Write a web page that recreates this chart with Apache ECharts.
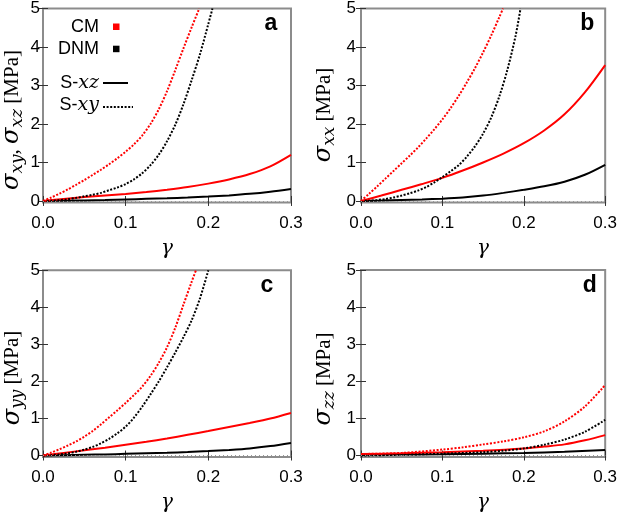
<!DOCTYPE html>
<html><head><meta charset="utf-8">
<script src="https://cdn.jsdelivr.net/npm/echarts@6/dist/echarts.min.js"></script>
<style>html,body{margin:0;padding:0;background:#fff}#c{width:620px;height:514px}</style>
</head><body><div id="c"></div>
<script>
// ---- data: [gamma, stress MPa] ----
const xTickValues = [0, 0.1, 0.2, 0.3];
const yTickValues = [0, 1, 2, 3, 4, 5];
const panelLetters = ['a', 'b', 'c', 'd'];

// panel a : sigma_xy / sigma_xz
const aCM_xz  = [[0,0],[0.025,0.05],[0.05,0.1],[0.075,0.14],[0.1,0.18],[0.125,0.23],[0.15,0.29],[0.175,0.36],[0.2,0.45],[0.225,0.56],[0.25,0.7],[0.275,0.9],[0.3,1.2]];
const aDNM_xz = [[0,0],[0.025,0.005],[0.05,0.015],[0.075,0.025],[0.1,0.04],[0.125,0.055],[0.15,0.07],[0.175,0.09],[0.2,0.115],[0.225,0.145],[0.25,0.185],[0.275,0.24],[0.3,0.31]];
const aCM_xy  = [[0,0],[0.01,0.09],[0.02,0.19],[0.03,0.3],[0.04,0.42],[0.05,0.545],[0.06,0.675],[0.07,0.81],[0.08,0.955],[0.09,1.11],[0.1,1.28],[0.11,1.47],[0.12,1.7],[0.13,2.0],[0.14,2.38],[0.15,2.85],[0.16,3.4],[0.17,3.97],[0.18,4.52],[0.189,5]];
const aDNM_xy = [[0,0],[0.01,0.005],[0.02,0.02],[0.03,0.045],[0.04,0.08],[0.05,0.12],[0.06,0.16],[0.07,0.21],[0.08,0.28],[0.09,0.35],[0.1,0.44],[0.11,0.56],[0.12,0.72],[0.13,0.93],[0.14,1.2],[0.15,1.55],[0.16,1.98],[0.17,2.52],[0.18,3.15],[0.19,3.82],[0.2,4.6],[0.205,5]];

// panel b : sigma_xx
const bCM_xz  = [[0,0],[0.025,0.14],[0.05,0.29],[0.075,0.44],[0.1,0.6],[0.125,0.79],[0.15,1.0],[0.175,1.23],[0.2,1.5],[0.225,1.83],[0.25,2.25],[0.275,2.82],[0.3,3.53]];
const bDNM_xz = [[0,0],[0.025,0.01],[0.05,0.025],[0.075,0.04],[0.1,0.06],[0.125,0.09],[0.15,0.14],[0.175,0.21],[0.2,0.29],[0.225,0.38],[0.25,0.5],[0.275,0.68],[0.3,0.94]];
const bCM_xy  = [[0,0],[0.01,0.19],[0.02,0.38],[0.03,0.58],[0.04,0.78],[0.05,0.98],[0.06,1.18],[0.07,1.39],[0.08,1.62],[0.09,1.86],[0.1,2.12],[0.11,2.41],[0.12,2.73],[0.13,3.08],[0.14,3.45],[0.15,3.86],[0.16,4.3],[0.17,4.78],[0.1745,5]];
const bDNM_xy = [[0,0],[0.01,0.006],[0.02,0.025],[0.03,0.05],[0.04,0.09],[0.05,0.14],[0.06,0.2],[0.07,0.27],[0.08,0.36],[0.09,0.48],[0.1,0.62],[0.11,0.77],[0.12,0.93],[0.13,1.15],[0.14,1.42],[0.15,1.75],[0.16,2.17],[0.17,2.72],[0.18,3.42],[0.19,4.3],[0.196,5]];

// panel c : sigma_yy
const cCM_xz  = [[0,0],[0.025,0.07],[0.05,0.14],[0.075,0.21],[0.1,0.29],[0.125,0.37],[0.15,0.46],[0.175,0.56],[0.2,0.66],[0.225,0.77],[0.25,0.88],[0.275,1.0],[0.3,1.15]];
const cDNM_xz = [[0,0],[0.025,0.01],[0.05,0.02],[0.075,0.03],[0.1,0.045],[0.125,0.06],[0.15,0.075],[0.175,0.095],[0.2,0.12],[0.225,0.15],[0.25,0.19],[0.275,0.255],[0.3,0.34]];
const cCM_xy  = [[0,0],[0.01,0.08],[0.02,0.17],[0.03,0.27],[0.04,0.38],[0.05,0.51],[0.06,0.66],[0.07,0.84],[0.08,1.03],[0.09,1.22],[0.1,1.42],[0.11,1.63],[0.12,1.86],[0.13,2.15],[0.14,2.5],[0.15,2.92],[0.16,3.45],[0.17,4.08],[0.18,4.7],[0.185,5]];
const cDNM_xy = [[0,0],[0.01,0.01],[0.02,0.03],[0.03,0.06],[0.04,0.1],[0.05,0.16],[0.06,0.23],[0.07,0.33],[0.08,0.45],[0.09,0.6],[0.1,0.78],[0.11,1.02],[0.12,1.32],[0.13,1.65],[0.14,2.0],[0.15,2.38],[0.16,2.78],[0.17,3.2],[0.18,3.66],[0.19,4.25],[0.2,5]];

// panel d : sigma_zz
const dCM_xz  = [[0,0.04],[0.05,0.06],[0.1,0.09],[0.15,0.13],[0.2,0.19],[0.225,0.24],[0.25,0.3],[0.275,0.41],[0.3,0.55]];
const dDNM_xz = [[0,0.02],[0.05,0.025],[0.1,0.035],[0.15,0.05],[0.2,0.07],[0.25,0.1],[0.3,0.15]];
const dCM_xy  = [[0,0.04],[0.05,0.07],[0.1,0.16],[0.125,0.22],[0.15,0.3],[0.175,0.38],[0.2,0.49],[0.225,0.65],[0.25,0.92],[0.275,1.32],[0.3,1.9]];
const dDNM_xy = [[0,0],[0.05,0.02],[0.1,0.05],[0.15,0.09],[0.175,0.13],[0.2,0.19],[0.225,0.29],[0.25,0.43],[0.275,0.64],[0.3,0.96]];

const panelData = [
  [aCM_xz, aDNM_xz, aCM_xy, aDNM_xy],
  [bCM_xz, bDNM_xz, bCM_xy, bDNM_xy],
  [cCM_xz, cDNM_xz, cCM_xy, cDNM_xy],
  [dCM_xz, dDNM_xz, dCM_xy, dDNM_xy]
];

// ---- layout ----
const grids = [
  {left: 43,  top: 8.5,   width: 248,   height: 194},
  {left: 361, top: 8.5,   width: 246.7, height: 194},
  {left: 43,  top: 270.3, width: 248,   height: 194.3},
  {left: 361, top: 270,   width: 246.7, height: 194.5}
];
const yLabelMargin = [3, 5, 3, 5];
const RED = '#ff0000', BLACK = '#000000';
const SANS = '"Liberation Sans", Arial, sans-serif';
const SERIF = '"Liberation Serif", serif';
const MATH = '"DejaVu Serif", "Liberation Serif", serif';

const option = {
  animation: false,
  backgroundColor: '#fff',
  grid: grids.map(g => Object.assign({show: true, borderColor: '#8c8c8c', borderWidth: 2, backgroundColor: 'transparent'}, g)),
  xAxis: [], yAxis: [], series: [], graphic: []
};

grids.forEach((g, i) => {
  option.xAxis.push({
    type: 'value', gridIndex: i, min: 0, max: 0.3, position: 'bottom',
    axisLine: {show: false},
    axisTick: {show: true, inside: true, length: 5, customValues: xTickValues, lineStyle: {color: '#333', width: 1}},
    axisLabel: {show: true, customValues: xTickValues, formatter: v => v.toFixed(1), fontFamily: SANS, fontSize: 17, color: '#000', margin: 12},
    splitLine: {show: false},
    name: 'γ', nameLocation: 'middle', nameGap: 36,
    nameTextStyle: {fontFamily: MATH, fontStyle: 'italic', fontSize: 20, color: '#000'}
  });
  option.xAxis.push({
    type: 'value', gridIndex: i, min: 0, max: 0.3, position: 'top',
    axisLine: {show: false},
    axisTick: {show: true, inside: true, length: 5, customValues: xTickValues, lineStyle: {color: '#333', width: 1}},
    axisLabel: {show: false}, splitLine: {show: false}
  });
  option.yAxis.push({
    type: 'value', gridIndex: i, min: -0.04, max: 5, position: 'left',
    axisLine: {show: false},
    axisTick: {show: true, inside: true, length: 5, customValues: yTickValues, lineStyle: {color: '#333', width: 1}},
    axisLabel: {show: true, customValues: yTickValues, fontFamily: SANS, fontSize: 17, color: '#000', margin: yLabelMargin[i]},
    splitLine: {show: false}
  });
  option.yAxis.push({
    type: 'value', gridIndex: i, min: -0.04, max: 5, position: 'right',
    axisLine: {show: false},
    axisTick: {show: true, inside: true, length: 5, customValues: yTickValues, lineStyle: {color: '#333', width: 1}},
    axisLabel: {show: false}, splitLine: {show: false}
  });

  const [cmXZ, dnmXZ, cmXY, dnmXY] = panelData[i];
  const mk = (data, color, dotted, withZero) => {
    const s = {
      type: 'line', xAxisIndex: 2 * i, yAxisIndex: 2 * i, data: data,
      symbol: 'none', showSymbol: false, smooth: 0.3, clip: true,
      lineStyle: {color: color, width: 2, type: dotted ? [2, 1.6] : 'solid'},
      silent: true
    };
    if (withZero) {
      s.markLine = {silent: true, symbol: 'none', label: {show: false}, animation: false,
        lineStyle: {color: '#9a9a9a', type: [1, 3], width: 1}, data: [{yAxis: 0}]};
    }
    return s;
  };
  option.series.push(mk(dnmXZ, BLACK, false, true));
  option.series.push(mk(cmXZ, RED, false, false));
  option.series.push(mk(dnmXY, BLACK, true, false));
  option.series.push(mk(cmXY, RED, true, false));
});

// panel letters
const letterPos = [[277.3, 23.7], [594.3, 23.7], [273.3, 285.7], [596.7, 285.7]];
panelLetters.forEach((t, i) => {
  option.graphic.push({type: 'text', x: letterPos[i][0], y: letterPos[i][1], silent: true,
    style: {text: t, font: 'bold 23px ' + SANS, fill: '#000', align: 'right', verticalAlign: 'middle'}});
});

// y axis titles
const richY = {
  s: {fontFamily: MATH, fontStyle: 'italic', fontSize: 24, lineHeight: 28, verticalAlign: 'middle', fill: '#000'},
  b: {fontFamily: MATH, fontStyle: 'italic', fontSize: 17, lineHeight: 17, verticalAlign: 'bottom', fill: '#000'},
  p: {fontFamily: SERIF, fontSize: 21, lineHeight: 28, verticalAlign: 'middle', fill: '#000'}
};
const yTitles = [
  {x: 12, y: 120, text: '{s|σ}{b|xy}{p|, }{s|σ}{b|xz}{p| [MPa]}'},
  {x: 324, y: 115, text: '{s|σ}{b|xx}{p| [MPa]}'},
  {x: 12.5, y: 378, text: '{s|σ}{b|yy}{p| [MPa]}'},
  {x: 324, y: 379, text: '{s|σ}{b|zz}{p| [MPa]}'}
];
yTitles.forEach(t => {
  option.graphic.push({type: 'text', x: t.x, y: t.y, rotation: Math.PI / 2, silent: true,
    style: {text: t.text, rich: richY, align: 'center', verticalAlign: 'middle'}});
});

// legend (panel a)
const legFont = '18px ' + SANS;
const richLeg = {n: {fontFamily: SANS, fontSize: 18, fill: '#000'}, m: {fontFamily: MATH, fontStyle: 'italic', fontSize: 19, fill: '#000'}};
option.graphic.push(
  {type: 'text', x: 99, y: 27, silent: true, style: {text: 'CM', font: legFont, fill: '#000', align: 'right', verticalAlign: 'middle'}},
  {type: 'rect', silent: true, shape: {x: 113, y: 23.5, width: 6.5, height: 6.5}, style: {fill: RED}},
  {type: 'text', x: 99, y: 49, silent: true, style: {text: 'DNM', font: legFont, fill: '#000', align: 'right', verticalAlign: 'middle'}},
  {type: 'rect', silent: true, shape: {x: 113, y: 45.7, width: 6.5, height: 6.5}, style: {fill: BLACK}},
  {type: 'text', x: 99, y: 83, silent: true, style: {text: '{n|S-}{m|xz}', align: 'right', verticalAlign: 'middle', rich: richLeg}},
  {type: 'line', silent: true, shape: {x1: 103, y1: 83, x2: 128, y2: 83}, style: {stroke: BLACK, lineWidth: 2}},
  {type: 'text', x: 99, y: 105, silent: true, style: {text: '{n|S-}{m|xy}', align: 'right', verticalAlign: 'middle', rich: richLeg}},
  {type: 'line', silent: true, shape: {x1: 103, y1: 107, x2: 133, y2: 107}, style: {stroke: BLACK, lineWidth: 2, lineDash: [2, 1.6]}}
);

const chart = echarts.init(document.getElementById('c'), null, {renderer: 'canvas'});
chart.setOption(option);
</script>
</body></html>
